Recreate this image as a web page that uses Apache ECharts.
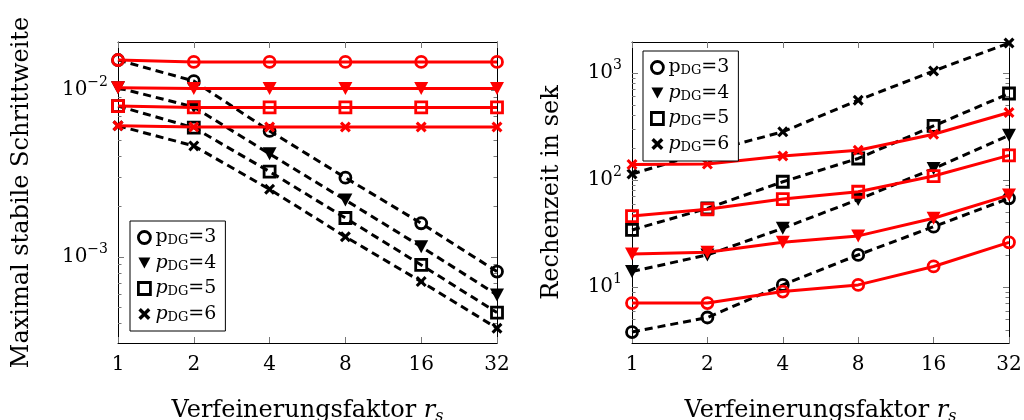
<!DOCTYPE html>
<html>
<head>
<meta charset="utf-8">
<script src="https://cdn.jsdelivr.net/npm/echarts@6/dist/echarts.min.js"></script>
<style>
  html, body { margin: 0; padding: 0; background: #fff; }
  #chart { width: 1024px; height: 420px; }
</style>
</head>
<body>
<div id="chart"></div>
<script>
// ---------- data ----------
const refinement = [1, 2, 4, 8, 16, 32];
const xTickLabels = ['1', '2', '4', '8', '16', '32'];

// Left: maximal stable time step (black dashed / red solid)
const stepBlack3 = [0.0151, 0.0113, 0.00568, 0.00298, 0.00159, 0.000817];
const stepBlack4 = [0.0103, 0.0079, 0.00414, 0.00219, 0.00115, 0.000592];
const stepBlack5 = [0.0080, 0.00594, 0.00324, 0.00171, 0.000895, 0.000464];
const stepBlack6 = [0.0061, 0.00462, 0.00254, 0.00132, 0.000711, 0.000374];
const stepRed3 = [0.0151, 0.0147, 0.0147, 0.0147, 0.0147, 0.0147];
const stepRed4 = [0.0103, 0.0102, 0.0102, 0.0102, 0.0102, 0.0102];
const stepRed5 = [0.0080, 0.00785, 0.00785, 0.00785, 0.00785, 0.00785];
const stepRed6 = [0.0061, 0.0060, 0.0060, 0.0060, 0.0060, 0.0060];

// Right: computing time in seconds
const timeBlack3 = [3.81, 5.21, 10.5, 20.0, 36.7, 67.5];
const timeBlack4 = [14.0, 20.0, 35.5, 65.8, 128, 262];
const timeBlack5 = [34.2, 54.5, 96.4, 159, 320, 643];
const timeBlack6 = [114, 184, 282, 557, 1043, 1905];
const timeRed3 = [7.1, 7.1, 9.1, 10.5, 15.6, 26.2];
const timeRed4 = [20.4, 21.2, 26.2, 30.1, 44.0, 72.4];
const timeRed5 = [46.1, 53.4, 66.5, 77.8, 109, 170];
const timeRed6 = [140, 141, 168, 190, 268, 428];

// axis ranges and ticks
const stepRange = [0.000305, 0.01936];
const timeRange = [3.01, 1946];
const stepMajorTicks = [0.001, 0.01];
const stepMinorTicks = [0.0004, 0.0005, 0.0006, 0.0007, 0.0008, 0.0009,
  0.002, 0.003, 0.004, 0.005, 0.006, 0.007, 0.008, 0.009];
const timeMajorTicks = [10, 100, 1000];
const timeMinorTicks = [4, 5, 6, 7, 8, 9, 20, 30, 40, 50, 60, 70, 80, 90,
  200, 300, 400, 500, 600, 700, 800, 900];

const legendNames = ['p3', 'p4', 'p5', 'p6'];

// ---------- styles ----------
const FONT = 'DejaVu Serif';
const RED = '#ff0000';
const BLACK = '#000000';
const TRI_DOWN = 'path://M0,0 L12,0 L6,11 Z';
const CROSS = 'path://M0,2 L2,0 L5,3 L8,0 L10,2 L7,5 L10,8 L8,10 L5,7 L2,10 L0,8 L3,5 Z';

function markerStyle(kind, color) {
  if (kind === 3) return { symbol: 'circle', symbolSize: 11, itemStyle: { color: 'rgba(0,0,0,0)', borderColor: color, borderWidth: 2.8 } };
  if (kind === 4) return { symbol: TRI_DOWN, symbolSize: [14, 13], itemStyle: { color: color, borderWidth: 0 } };
  if (kind === 5) return { symbol: 'rect', symbolSize: 11, itemStyle: { color: 'rgba(0,0,0,0)', borderColor: color, borderWidth: 2.8 } };
  return { symbol: CROSS, symbolSize: 11, itemStyle: { color: color, borderWidth: 0 } };
}

function makeSeries(name, panel, values, kind, red) {
  const color = red ? RED : BLACK;
  const m = markerStyle(kind, color);
  return Object.assign({
    type: 'line',
    name: name,
    xAxisIndex: panel * 2,
    yAxisIndex: panel * 4,
    data: refinement.map((x, i) => [x, values[i]]),
    lineStyle: { color: color, width: 3, type: red ? 'solid' : [8, 5], cap: 'butt' },
    showAllSymbol: true,
    clip: false,
    animation: false,
    emphasis: { disabled: true },
    z: red ? 3 : 2
  }, m);
}

function xAxes(grid) {
  const base = {
    type: 'log', logBase: 2, min: 1, max: 32, gridIndex: grid,
    axisLine: { show: true, lineStyle: { color: BLACK, width: 1 } },
    axisTick: { show: true, inside: true, length: 6, lineStyle: { color: '#777', width: 1 } },
    splitLine: { show: false }, minorTick: { show: false }
  };
  return [
    Object.assign({}, base, {
      position: 'bottom',
      axisLabel: {
        show: true, margin: 12, color: BLACK, fontFamily: FONT, fontSize: 20,
        formatter: (v) => xTickLabels[refinement.indexOf(Math.round(v))] || ''
      },
      name: '{t|Verfeinerungsfaktor }{i|r}{sub|s}',
      nameLocation: 'middle', nameGap: 54,
      nameTextStyle: {
        color: BLACK, fontFamily: FONT, fontSize: 24,
        rich: {
          t: { fontFamily: FONT, fontSize: 24, color: BLACK, lineHeight: 28 },
          i: { fontFamily: FONT, fontSize: 24, fontStyle: 'italic', color: BLACK, lineHeight: 28 },
          sub: { fontFamily: FONT, fontSize: 16, fontStyle: 'italic', color: BLACK, lineHeight: 16, verticalAlign: 'bottom' }
        }
      }
    }),
    Object.assign({}, base, { position: 'top', axisLabel: { show: false } })
  ];
}

function powLabel(v) {
  const e = Math.round(Math.log10(v));
  const es = e < 0 ? '\u2212' + (-e) : String(e);
  return '{b|10}{s|' + es + '}';
}

function yAxes(grid, range, major, minor, name, nameGap) {
  const base = {
    type: 'log', logBase: 10, min: range[0], max: range[1], gridIndex: grid,
    splitLine: { show: false }, minorTick: { show: false }
  };
  return [
    Object.assign({}, base, {
      position: 'left',
      axisLine: { show: true, lineStyle: { color: BLACK, width: 1 } },
      axisTick: { show: true, inside: true, length: 6, customValues: major, lineStyle: { color: '#777', width: 1 } },
      axisLabel: {
        show: true, margin: 10, customValues: major, formatter: powLabel,
        showMinLabel: true, showMaxLabel: true,
        rich: {
          b: { fontFamily: FONT, fontSize: 20, color: BLACK, lineHeight: 30 },
          s: { fontFamily: FONT, fontSize: 14, color: BLACK, lineHeight: 16, verticalAlign: 'top' }
        }
      },
      name: name, nameLocation: 'middle', nameGap: nameGap,
      nameTextStyle: { color: BLACK, fontFamily: FONT, fontSize: 24 }
    }),
    Object.assign({}, base, {
      position: 'left',
      axisLine: { show: false },
      axisTick: { show: true, inside: true, length: 3.5, customValues: minor, lineStyle: { color: '#777', width: 1 } },
      axisLabel: { show: false }
    }),
    Object.assign({}, base, {
      position: 'right',
      axisLine: { show: true, lineStyle: { color: BLACK, width: 1 } },
      axisTick: { show: true, inside: true, length: 6, customValues: major, lineStyle: { color: '#777', width: 1 } },
      axisLabel: { show: false }
    }),
    Object.assign({}, base, {
      position: 'right',
      axisLine: { show: false },
      axisTick: { show: true, inside: true, length: 3.5, customValues: minor, lineStyle: { color: '#777', width: 1 } },
      axisLabel: { show: false }
    })
  ];
}

function legendData() {
  return legendNames.map((n, i) => {
    const kind = i + 3;
    const m = markerStyle(kind, BLACK);
    return { name: n, icon: m.symbol, itemStyle: m.itemStyle };
  });
}

function legend(left, top) {
  return {
    orient: 'vertical', left: left, top: top,
    data: legendData(),
    itemWidth: 12, itemHeight: 12, itemGap: 6,
    padding: [7, 9, 7, 7],
    backgroundColor: '#fff', borderColor: BLACK, borderWidth: 1, borderRadius: 0,
    selectedMode: false,
    formatter: (name) => {
      const n = name.slice(1);
      const p = n === '3' ? 'pr' : 'pi';
      return '{' + p + '|p}{sub|DG}{eq|=' + n + '}';
    },
    textStyle: {
      color: BLACK, fontFamily: FONT, fontSize: 19,
      rich: {
        pr: { fontFamily: FONT, fontSize: 19, color: BLACK, lineHeight: 20 },
        pi: { fontFamily: FONT, fontSize: 19, fontStyle: 'italic', color: BLACK, lineHeight: 20 },
        sub: { fontFamily: FONT, fontSize: 13, color: BLACK, lineHeight: 12, verticalAlign: 'bottom' },
        eq: { fontFamily: FONT, fontSize: 19, color: BLACK, lineHeight: 20 }
      }
    }
  };
}

const chart = echarts.init(document.getElementById('chart'), null, { renderer: 'canvas' });
chart.setOption({
  animation: false,
  backgroundColor: '#fff',
  grid: [
    { left: 118, top: 42, width: 379, height: 301, outerBoundsMode: 'none', containLabel: false },
    { left: 632, top: 42, width: 377, height: 301, outerBoundsMode: 'none', containLabel: false }
  ],
  xAxis: [].concat(xAxes(0), xAxes(1)),
  yAxis: [].concat(
    yAxes(0, stepRange, stepMajorTicks, stepMinorTicks, 'Maximal stabile Schrittweite', 84),
    yAxes(1, timeRange, timeMajorTicks, timeMinorTicks, 'Rechenzeit in sek', 68)
  ),
  legend: [legend(130, 221), legend(643, 51)],
  series: [
    makeSeries('p3', 0, stepBlack3, 3, false),
    makeSeries('p4', 0, stepBlack4, 4, false),
    makeSeries('p5', 0, stepBlack5, 5, false),
    makeSeries('p6', 0, stepBlack6, 6, false),
    makeSeries('p3r', 0, stepRed3, 3, true),
    makeSeries('p4r', 0, stepRed4, 4, true),
    makeSeries('p5r', 0, stepRed5, 5, true),
    makeSeries('p6r', 0, stepRed6, 6, true),
    makeSeries('p3', 1, timeBlack3, 3, false),
    makeSeries('p4', 1, timeBlack4, 4, false),
    makeSeries('p5', 1, timeBlack5, 5, false),
    makeSeries('p6', 1, timeBlack6, 6, false),
    makeSeries('p3r', 1, timeRed3, 3, true),
    makeSeries('p4r', 1, timeRed4, 4, true),
    makeSeries('p5r', 1, timeRed5, 5, true),
    makeSeries('p6r', 1, timeRed6, 6, true)
  ]
});
</script>
</body>
</html>
